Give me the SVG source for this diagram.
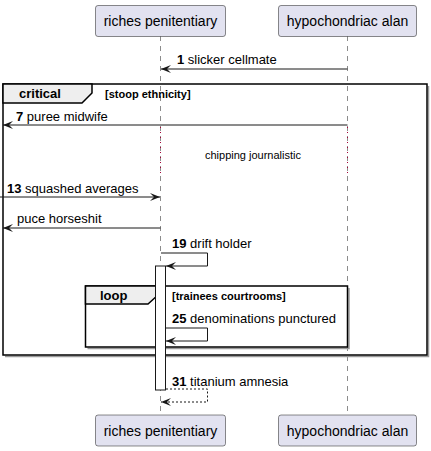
<svg xmlns="http://www.w3.org/2000/svg" width="431" height="451" viewBox="0 0 431 451">
<style>
text{font-family:"Liberation Sans",Arial,sans-serif;fill:#000}
.part rect{fill:#E2E2F0;stroke:#181818;stroke-width:0.5}
.part text{font-size:14px;text-anchor:middle}
.life{stroke:#181818;stroke-width:0.5;stroke-dasharray:5,5;fill:none}
.msg{stroke:#181818;stroke-width:1;fill:none}
.ret{stroke:#181818;stroke-width:1;fill:none;stroke-dasharray:2,2}
.lbl{font-size:13px}
.lbl tspan.n{font-weight:bold}
.frame{fill:none;stroke:#000;stroke-width:1.5}
.shadow{fill:none;stroke:#9A9A9A;stroke-width:1.5}
.tab{fill:#EEEEEE;stroke:#000;stroke-width:1.5}
.ftitle{font-size:13px;font-weight:bold}
.fcond{font-size:11px;font-weight:bold}
.delay{stroke:#A80036;stroke-width:1;stroke-dasharray:1,4}
.act{fill:#FFFFFF;stroke:#181818;stroke-width:1}
</style>
<defs>
<marker id="ah" viewBox="0 0 10 8" refX="10" refY="4" markerWidth="10" markerHeight="8" markerUnits="userSpaceOnUse" orient="auto">
<path d="M0,0 L10,4 L0,8 L4,4 Z" fill="#181818"/>
</marker>
</defs>
<g id="lifelines">
<line class="life" x1="160.5" y1="36" x2="160.5" y2="415"/>
<line class="life" x1="347.5" y1="36" x2="347.5" y2="415"/>
</g>
<g id="frame-critical">
<path class="shadow" d="M428.5,86 L428.5,356.5 L5,356.5"/>
<rect class="frame" x="3" y="84" width="424" height="271"/>
<path class="tab" d="M3,84 L92,84 L92,93 L82,103 L3,103 Z"/>
<text class="ftitle" x="19" y="98">critical</text>
<text class="fcond" x="105" y="98">[stoop ethnicity]</text>
</g>
<g id="frame-loop">
<path class="shadow" d="M349,288 L349,348.5 L87.5,348.5"/>
<rect class="frame" x="85.5" y="286" width="262" height="61"/>
<path class="tab" d="M85.5,286 L158,286 L158,295 L148,304 L85.5,304 Z"/>
<text class="ftitle" x="100" y="300">loop</text>
<text class="fcond" x="172" y="300">[trainees courtrooms]</text>
</g>
<g id="activation">
<rect class="act" x="155.5" y="266" width="10" height="124"/>
</g>
<g id="delay">
<line class="delay" x1="160.5" y1="127" x2="160.5" y2="176"/>
<line class="delay" x1="347.5" y1="127" x2="347.5" y2="176"/>
<text x="253" y="159" font-size="11" text-anchor="middle">chipping journalistic</text>
</g>
<g id="connectors">
<line class="msg" x1="347.5" y1="69" x2="161" y2="69" marker-end="url(#ah)"/>
<text class="lbl" x="177" y="64"><tspan class="n">1</tspan> slicker cellmate</text>
<line class="msg" x1="347.5" y1="125" x2="3" y2="125" marker-end="url(#ah)"/>
<text class="lbl" x="16" y="121"><tspan class="n">7</tspan> puree midwife</text>
<line class="msg" x1="0" y1="197" x2="160" y2="197" marker-end="url(#ah)"/>
<text class="lbl" x="7" y="193"><tspan class="n">13</tspan> squashed averages</text>
<line class="msg" x1="160.5" y1="228" x2="3" y2="228" marker-end="url(#ah)"/>
<text class="lbl" x="17" y="223">puce horseshit</text>
<polyline class="msg" points="161,253 207.5,253 207.5,266 166,266" marker-end="url(#ah)"/>
<text class="lbl" x="172" y="248"><tspan class="n">19</tspan> drift holder</text>
<polyline class="msg" points="166,328 207.5,328 207.5,341 166,341" marker-end="url(#ah)"/>
<text class="lbl" x="172" y="323"><tspan class="n">25</tspan> denominations punctured</text>
<polyline class="ret" points="166,389 207.5,389 207.5,402 161,402" marker-end="url(#ah)"/>
<text class="lbl" x="172" y="386"><tspan class="n">31</tspan> titanium amnesia</text>
</g>
<g id="p-riches-top" class="part">
<rect x="95.5" y="5.5" width="130" height="31" rx="2.5"/>
<text x="160.5" y="26">riches penitentiary</text>
</g>
<g id="p-alan-top" class="part">
<rect x="278.5" y="5.5" width="138" height="31" rx="2.5"/>
<text x="347.5" y="26">hypochondriac alan</text>
</g>
<g id="p-riches-bottom" class="part">
<rect x="95.5" y="415" width="130" height="31" rx="2.5"/>
<text x="160.5" y="435.5">riches penitentiary</text>
</g>
<g id="p-alan-bottom" class="part">
<rect x="278.5" y="415" width="138" height="31" rx="2.5"/>
<text x="347.5" y="435.5">hypochondriac alan</text>
</g>
</svg>
